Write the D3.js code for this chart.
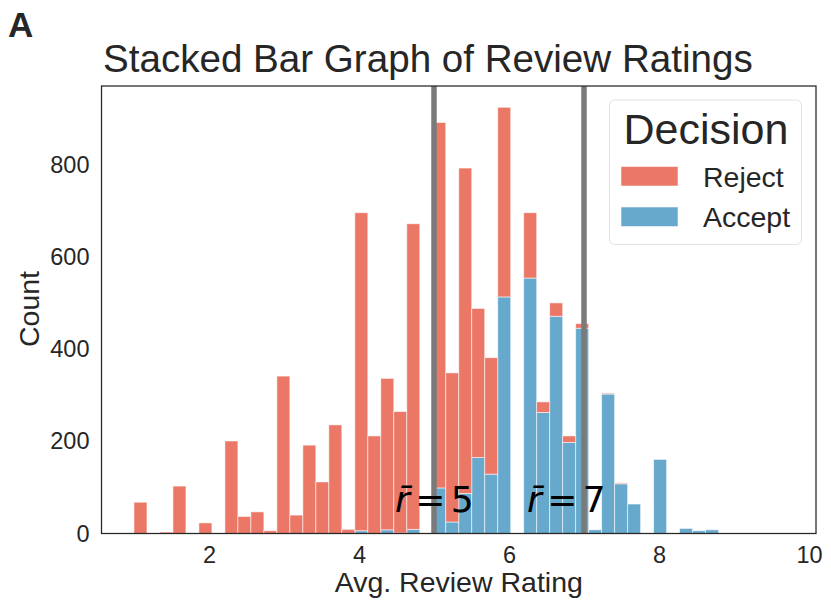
<!DOCTYPE html>
<html><head><meta charset="utf-8">
<script src="https://cdn.jsdelivr.net/npm/d3@7"></script>
<style>
body{margin:0;background:#fff}
svg text{font-family:"Liberation Sans",Arial,sans-serif;fill:#262626}
</style>
</head><body>
<svg id="chart" width="831" height="608"></svg>
<script>
// ---- data ----
const binStart = 1.0;
const binWidth = 0.1732;
const rejectCounts = [68,0,3,103,0,23,0,201,37,47,6,342,40,192,112,236,9,691,212,329,264,664,0,794,324,707,324,253,412,0,142,23,29,14,10,0,2,2,0,0,0,0,0,0,0,0,0,0,0,0];
const acceptCounts = [0,0,0,0,0,0,0,0,0,0,0,0,0,0,0,0,0,6,0,8,1,9,0,99,25,87,165,129,514,0,555,263,472,198,446,8,303,108,64,0,161,0,11,6,8,0,1,0,0,0];
const seriesNames = ["Reject","Accept"];
const xTicks = [2,4,6,8,10];
const yTicks = [0,200,400,600,800];
const refLines = [5,7];
const refLabels = ["5","7"];
const refLabelX = [4.48,6.24];
const refLabelY = 47;

// ---- layout ----
const W = 831, H = 608;
const L = 101.5, R = 816, T = 86, B = 533.5;
const colors = {Reject:"#eb7767", Accept:"#67a8cd"};

const svg = d3.select("#chart");
svg.append("rect").attr("width",W).attr("height",H).attr("fill","#fff");

const rows = rejectCounts.map((r,i)=>({
  x0: binStart + i*binWidth,
  x1: binStart + (i+1)*binWidth,
  Reject: r,
  Accept: acceptCounts[i]
}));
const dMin = binStart, dMax = binStart + rows.length*binWidth;
const pad = 0.05*(dMax-dMin);
const x = d3.scaleLinear().domain([dMin-pad, dMax+pad]).range([L,R]);
const maxTot = d3.max(rows, d=>d.Reject+d.Accept);
const y = d3.scaleLinear().domain([0, maxTot*1.05]).range([B,T]);

const stack = d3.stack().keys(["Accept","Reject"])(rows);

const g = svg.append("g");
g.selectAll("g.layer").data(stack).join("g").attr("class","layer")
  .attr("fill", d=>colors[d.key])
  .selectAll("rect").data(d=>d.filter(s=>s[1]-s[0]>0)).join("rect")
  .attr("x", s=>x(s.data.x0))
  .attr("width", s=>x(s.data.x1)-x(s.data.x0))
  .attr("y", s=>y(s[1]))
  .attr("height", s=>y(s[0])-y(s[1]))
  .attr("stroke","#ffffff").attr("stroke-opacity",0.6).attr("stroke-width",0.9);

// reference lines
svg.selectAll("line.ref").data(refLines).join("line").attr("class","ref")
  .attr("x1",d=>x(d)).attr("x2",d=>x(d)).attr("y1",T).attr("y2",B)
  .attr("stroke","#7a7a7a").attr("stroke-width",5.5);

// ref labels
refLabels.forEach((lab,i)=>{
  const t = svg.append("text")
    .attr("x", x(refLabelX[i])).attr("y", y(refLabelY))
    .style("font-family","'DejaVu Sans',sans-serif").style("font-size","36px").style("fill","#000");
  t.append("tspan").style("font-style","italic").text("r\u0304");
  t.append("tspan").attr("dx","0.15em").text("=");
  t.append("tspan").attr("dx","0.15em").text(lab);
});

// axes frame
svg.append("rect").attr("x",L).attr("y",T).attr("width",R-L).attr("height",B-T)
  .attr("fill","none").attr("stroke","#262626").attr("stroke-width",1.25);

// x axis
const xAxis = d3.axisBottom(x).tickValues(xTicks).tickSize(0).tickPadding(13).tickFormat(d3.format("d"));
const gx = svg.append("g").attr("transform",`translate(0,${B})`).call(xAxis);
gx.select(".domain").remove();
gx.selectAll("text").style("font-size","23.5px").style("font-family","'Liberation Sans',Arial,sans-serif").attr("fill","#262626");

const yAxis = d3.axisLeft(y).tickValues(yTicks).tickSize(0).tickPadding(12).tickFormat(d3.format("d"));
const gy = svg.append("g").attr("transform",`translate(${L},0)`).call(yAxis);
gy.select(".domain").remove();
gy.selectAll("text").style("font-size","23.5px").style("font-family","'Liberation Sans',Arial,sans-serif").attr("fill","#262626");

// labels
svg.append("text").attr("x",(L+R)/2).attr("y",592).attr("text-anchor","middle")
  .style("font-size","28.5px").text("Avg. Review Rating");
svg.append("text").attr("transform",`translate(39,309) rotate(-90)`).attr("text-anchor","middle")
  .style("font-size","28.5px").text("Count");
svg.append("text").attr("x",103).attr("y",72)
  .style("font-size","38.6px").text("Stacked Bar Graph of Review Ratings");
svg.append("text").attr("x",8).attr("y",37)
  .style("font-size","35px").style("font-weight","bold").text("A");

// legend
const lg = svg.append("g");
lg.append("rect").attr("x",609.5).attr("y",100).attr("width",192).attr("height",144.5).attr("rx",5)
  .attr("fill","#fff").attr("fill-opacity",0.8).attr("stroke","#e2e2e2").attr("stroke-width",1);
lg.append("text").attr("x",706).attr("y",144).attr("text-anchor","middle")
  .style("font-size","43px").text("Decision");
seriesNames.forEach((n,i)=>{
  lg.append("rect").attr("x",621).attr("y",166.5+i*40.5).attr("width",57).attr("height",19.5)
    .attr("fill",colors[n]).attr("stroke","#fff").attr("stroke-opacity",0.6).attr("stroke-width",0.9);
  lg.append("text").attr("x",703).attr("y",186.5+i*40.5).style("font-size","28.5px").text(n);
});
</script>
</body></html>
